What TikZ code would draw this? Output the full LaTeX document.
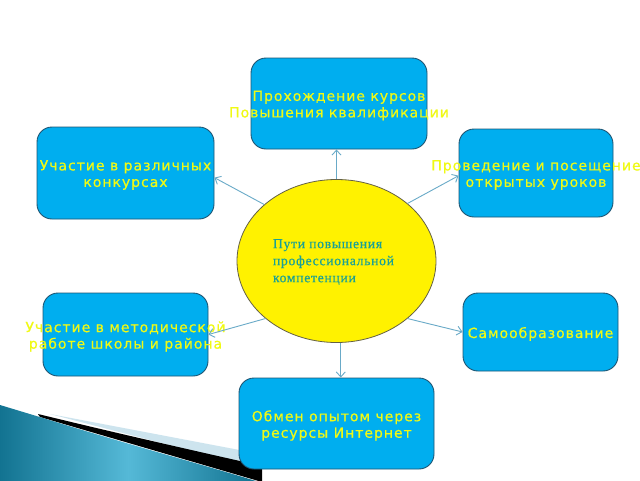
\documentclass[tikz,border=0pt]{standalone}
\usepackage{fontspec}
\setmainfont{Liberation Serif}
\newfontfamily\boxfont[LetterSpace=7,FakeBold=0.6]{DejaVu Sans}
\newfontfamily\ellfont[LetterSpace=5,FakeBold=0.5]{Liberation Serif}
\usetikzlibrary{shapes.geometric,arrows.meta,calc}
\definecolor{boxfill}{RGB}{0,174,239}
\definecolor{boxline}{RGB}{30,85,115}
\definecolor{txtyel}{RGB}{240,250,20}
\definecolor{elltxt}{RGB}{25,160,150}
\definecolor{arrcol}{RGB}{105,170,200}
\definecolor{tealdark}{RGB}{18,115,145}
\definecolor{teallight}{RGB}{85,185,215}
\definecolor{lightband}{RGB}{205,228,238}
\tikzset{
  pbox/.style={draw=boxline, line width=0.9pt, fill=boxfill, rounded corners=15pt, inner sep=0pt},
  ptxt/.style={text=txtyel, font=\boxfont\fontsize{14}{16.5}\selectfont, align=center, inner sep=0pt, yshift=-2pt},
  arr/.style={draw=arrcol, line width=0.9pt, -{Straight Barb[length=5pt,width=9pt]}},
}
\begin{document}
\begin{tikzpicture}[x=1pt,y=-1pt]
\useasboundingbox (0,0) rectangle (640,480);
\fill[white] (0,0) rectangle (640,480);
% decoration bottom-left
\fill[lightband] (50,414) -- (250,452) -- (250,466) -- cycle;
\fill[black] (38,414) .. controls (120,434) and (200,452) .. (262,466) -- (262,482) -- (40,417) -- cycle;
\shade[left color=tealdark, right color=tealdark, middle color=teallight]
  (0,405) -- (43,418) .. controls (120,442) and (200,464) .. (256,481) -- (0,481) -- cycle;
% boxes
\node[pbox, minimum width=176pt, minimum height=91pt,
  label={[ptxt]center:Прохождение курсов\\Повышения квалификации}] (top) at (339,103.5) {};
\node[pbox, minimum width=177pt, minimum height=92pt,
  label={[ptxt]center:Участие в различных\\конкурсах}] (lt) at (125.5,173) {};
\node[pbox, minimum width=154pt, minimum height=88pt,
  label={[ptxt]center:Проведение и посещение\\открытых уроков}] (rt) at (536,173) {};
\node[pbox, minimum width=165pt, minimum height=83pt,
  label={[ptxt]center:Участие в методической\\работе школы и района}] (lb) at (125.5,334.5) {};
\node[pbox, minimum width=155pt, minimum height=78pt,
  label={[ptxt]center:Самообразование}] (rb) at (540.5,332) {};
\node[pbox, minimum width=195pt, minimum height=91pt,
  label={[ptxt]center:Обмен опытом через\\ресурсы Интернет}] (bot) at (336.5,423.5) {};
% central ellipse
\node[ellipse, draw=black!70!yellow, line width=0.8pt, fill=yellow, minimum width=199pt, minimum height=163pt,
  inner sep=0pt,
  label={[text=elltxt, align=left, inner sep=0pt, xshift=-3pt, yshift=-1pt, font=\ellfont\fontsize{13.7}{17}\selectfont]center:Пути повышения\\профессиональной\\компетенции}] (ell) at (336.5,261) {};
% connectors
\draw[arr] (ell.north) -- (ell.north |- top.south);
\draw[arr] (ell.142) -- (lt.-3);
\draw[arr] (ell.39) -- (rt.182);
\draw[arr] (ell.219) -- (lb.east);
\draw[arr] (ell.-39) -- (rb.west);
\draw[arr] (ell.-87) -- (ell.-87 |- bot.north);
\end{tikzpicture}
\end{document}
